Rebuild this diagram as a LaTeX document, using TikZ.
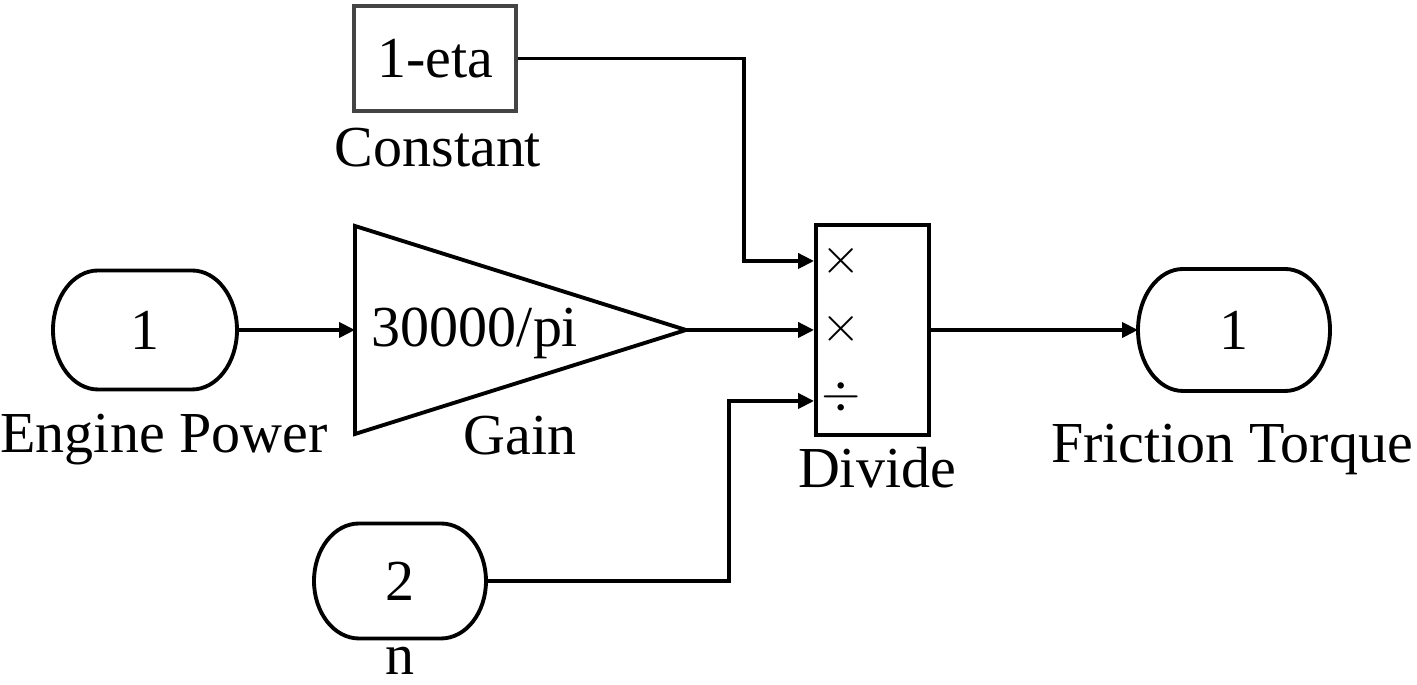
\documentclass[tikz,border=0pt]{standalone}
\usepackage{fontspec}
\setmainfont{Liberation Serif}
\usetikzlibrary{arrows.meta}
\definecolor{constgray}{RGB}{68,68,68}

\begin{document}
\begin{tikzpicture}[every node/.style={font=\fontsize{16.5}{19}\selectfont},
    wire/.style={line width=1.1pt},
    sig/.style={line width=1.1pt, -{Triangle[length=0.16cm,width=0.15cm]}},
    blk/.style={draw, line width=1.1pt, inner sep=0pt},
    port/.style={outer sep=0pt, inner sep=0pt},
    op/.style={font=\fontsize{14.5}{15}\selectfont}]
    \useasboundingbox (0,0) rectangle (14.17,6.85);
    % ports
    \node[port, minimum width=1.84cm, minimum height=1.19cm] (in1) at (1.45,3.55) {1};
    \node[port, minimum width=1.72cm, minimum height=1.15cm] (in2) at (4.00,1.04) {2};
    \node[port, minimum width=1.92cm, minimum height=1.22cm] (out1) at (12.34,3.55) {1};
    \foreach \p/\h in {in1/0.595,in2/0.575,out1/0.61}
        \draw[wire] ([xshift=0.45cm]\p.north west) -- ([xshift=-0.45cm]\p.north east)
            arc[start angle=90, end angle=-90, x radius=0.45cm, y radius=\h cm]
            -- ([xshift=0.45cm]\p.south west)
            arc[start angle=270, end angle=90, x radius=0.45cm, y radius=\h cm] -- cycle;
    % blocks
    \node[blk, draw=constgray, minimum width=1.62cm, minimum height=1.05cm] (const) at (4.35,6.265) {1-eta};
    \coordinate (gtop) at (3.55,4.59);
    \coordinate (gbot) at (3.55,2.51);
    \coordinate (gout) at (6.86,3.55);
    \draw[wire] (gtop) -- (gout) -- (gbot) -- cycle;
    \node[anchor=base] (gain) at (4.75,3.38) {30000/pi};
    \node[blk, minimum width=1.13cm, minimum height=2.10cm] (div) at (8.725,3.55) {};
    \node[op] (op1) at (8.41,4.24) {$\times$};
    \node[op] (op2) at (8.41,3.56) {$\times$};
    \node[op] (op3) at (8.41,2.88) {$\div$};
    % labels
    \node[anchor=base] (lin1) at (1.64,2.32) {Engine Power};
    \node[anchor=base] (lin2) at (4.00,0.10) {n};
    \node[anchor=base] (lconst) at (4.38,5.18) {Constant};
    \node[anchor=base] (lgain) at (5.20,2.30) {Gain};
    \node[anchor=base] (ldiv) at (8.77,1.97) {Divide};
    \node[anchor=base] (lout1) at (12.32,2.22) {Friction Torque};
    % signals
    \draw[sig] (in1.east) -- (gtop |- in1.east);
    \draw[sig] (gout) -- (div.west);
    \draw[sig] (const.east) -| ([xshift=-0.70cm,yshift=0.69cm]div.west) -- ([yshift=0.69cm]div.west);
    \draw[sig] (in2.east) -| ([xshift=-0.85cm,yshift=-0.71cm]div.west) -- ([yshift=-0.71cm]div.west);
    \draw[sig] (div.east) -- (out1.west);
\end{tikzpicture}
\end{document}
